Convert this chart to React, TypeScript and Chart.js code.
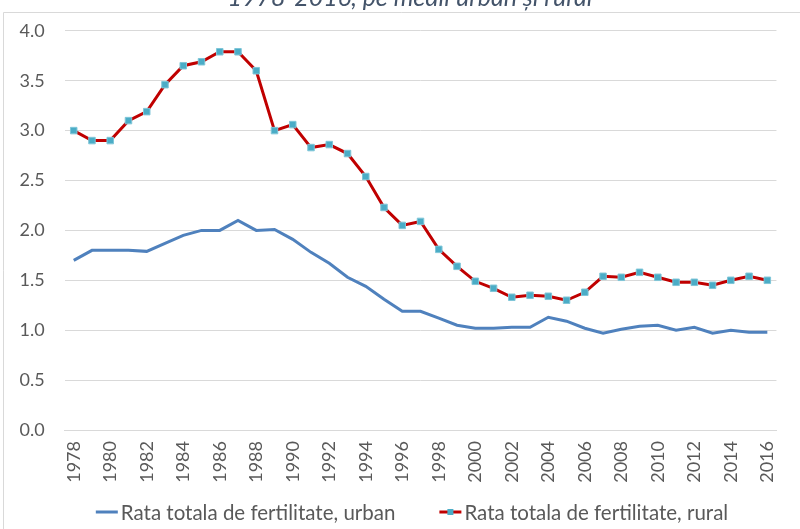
import React, { useEffect, useRef } from "react";
import { Chart, registerables } from "chart.js";

Chart.register(...registerables);

const years: string[] = [
  "1978", "1979", "1980", "1981", "1982", "1983", "1984", "1985", "1986", "1987",
  "1988", "1989", "1990", "1991", "1992", "1993", "1994", "1995", "1996", "1997",
  "1998", "1999", "2000", "2001", "2002", "2003", "2004", "2005", "2006", "2007",
  "2008", "2009", "2010", "2011", "2012", "2013", "2014", "2015", "2016",
];

const urban: number[] = [
  1.70, 1.80, 1.80, 1.80, 1.79, 1.87, 1.95, 2.00, 2.00, 2.10, 2.00, 2.01,
  1.91, 1.78, 1.67, 1.53, 1.44, 1.31, 1.19, 1.19, 1.12, 1.05,
  1.02, 1.02, 1.03, 1.03, 1.13, 1.09, 1.02, 0.97, 1.01, 1.04,
  1.05, 1.00, 1.03, 0.97, 1.00, 0.98, 0.98,
];

const rural: number[] = [
  3.00, 2.90, 2.90, 3.10, 3.19, 3.46, 3.65, 3.69, 3.79, 3.79, 3.60, 3.00,
  3.06, 2.83, 2.86, 2.77, 2.54, 2.23, 2.05, 2.09, 1.81, 1.64,
  1.49, 1.42, 1.33, 1.35, 1.34, 1.30, 1.38, 1.54, 1.53, 1.58,
  1.53, 1.48, 1.48, 1.45, 1.50, 1.54, 1.50,
];

const titleText = "1978-2016, pe medii urban și rural";
const urbanLabel = "Rata totala de fertilitate, urban";
const ruralLabel = "Rata totala de fertilitate, rural";

const FONT = "Lato, 'Noto Sans', sans-serif";
const TEXT = "#595959";
const GRID = "#d9d9d9";
const BLUE = "#4F81BD";
const RED = "#C00000";
const AQUA = "#4BACC6";

const decorPlugin = {
  id: "decor",
  beforeDraw(chart: any) {
    const ctx = chart.ctx as CanvasRenderingContext2D;
    ctx.save();
    ctx.fillStyle = "#ffffff";
    ctx.fillRect(0, 0, chart.width, chart.height);
    // frame
    ctx.strokeStyle = GRID;
    ctx.lineWidth = 1;
    ctx.beginPath();
    ctx.moveTo(3.5, chart.height);
    ctx.lineTo(3.5, 12.5);
    ctx.lineTo(chart.width, 12.5);
    ctx.stroke();
    // title (cut at top)
    ctx.font = `italic 25px ${FONT}`;
    ctx.fillStyle = "#44546A";
    ctx.textAlign = "center";
    ctx.textBaseline = "alphabetic";
    ctx.fillText(titleText, 410, 6);
    ctx.restore();
  },
  afterDraw(chart: any) {
    const ctx = chart.ctx as CanvasRenderingContext2D;
    const ds = chart.data.datasets;
    ctx.save();
    ctx.font = `20.5px ${FONT}`;
    ctx.textBaseline = "middle";
    ctx.textAlign = "left";
    const lineLen = 22;
    const textGap = 3;
    const itemGap = 44;
    const w0 = ctx.measureText(ds[0].label).width;
    const w1 = ctx.measureText(ds[1].label).width;
    const total = lineLen + textGap + w0 + itemGap + lineLen + textGap + w1;
    let x = 412 - total / 2;
    const y = 512;
    ds.forEach((d: any, i: number) => {
      ctx.strokeStyle = d.borderColor;
      ctx.lineWidth = 3;
      ctx.beginPath();
      ctx.moveTo(x, y);
      ctx.lineTo(x + lineLen, y);
      ctx.stroke();
      if (d.pointRadius > 0) {
        ctx.fillStyle = d.pointBackgroundColor;
        ctx.fillRect(x + lineLen / 2 - 3, y - 3, 6, 6);
      }
      ctx.fillStyle = TEXT;
      ctx.fillText(d.label, x + lineLen + textGap, y + 1);
      x += lineLen + textGap + (i === 0 ? w0 : w1) + itemGap;
    });
    ctx.restore();
  },
};

export default function App() {
  const ref = useRef<HTMLCanvasElement>(null);
  useEffect(() => {
    if (!ref.current) return;
    const chart = new Chart(ref.current, {
      type: "line",
      data: {
        labels: years,
        datasets: [
          {
            label: urbanLabel,
            data: urban,
            borderColor: BLUE,
            backgroundColor: BLUE,
            borderWidth: 3,
            pointRadius: 0,
            tension: 0,
          },
          {
            label: ruralLabel,
            data: rural,
            borderColor: RED,
            backgroundColor: RED,
            borderWidth: 3,
            pointRadius: 4.6,
            pointStyle: "rect",
            pointBackgroundColor: AQUA,
            pointBorderColor: "#7fc6d8",
            pointBorderWidth: 1,
            tension: 0,
          },
        ],
      },
      options: {
        animation: false,
        responsive: false,
        layout: { padding: { top: 30.7, right: 1.6, left: 0, bottom: 0 } },
        plugins: {
          legend: { display: false },
          title: { display: false },
          tooltip: { enabled: false },
        },
        scales: {
          x: {
            offset: true,
            grid: { display: false, drawTicks: false },
            border: { display: true, color: GRID },
            ticks: {
              autoSkip: false,
              minRotation: 90,
              maxRotation: 90,
              padding: 11,
              color: TEXT,
              font: { family: FONT, size: 18 },
              callback: (_v: any, i: number) => (i % 2 === 0 ? years[i] : ""),
            },
            afterFit: (s: any) => {
              s.height = 99;
            },
          },
          y: {
            min: 0,
            max: 4,
            grid: { color: GRID, lineWidth: 1, drawTicks: false },
            border: { display: false },
            ticks: {
              stepSize: 0.5,
              padding: 20,
              color: TEXT,
              font: { family: FONT, size: 18 },
              callback: (v: any) => Number(v).toFixed(1),
            },
            afterFit: (s: any) => {
              s.width = 64.6;
            },
          },
        },
      },
      plugins: [decorPlugin],
    });
    return () => chart.destroy();
  }, []);
  return (
    <div style={{ position: "fixed", left: 0, top: 0, width: 800, height: 529 }}>
      <canvas ref={ref} width={800} height={529} style={{ width: 800, height: 529 }} />
    </div>
  );
}
